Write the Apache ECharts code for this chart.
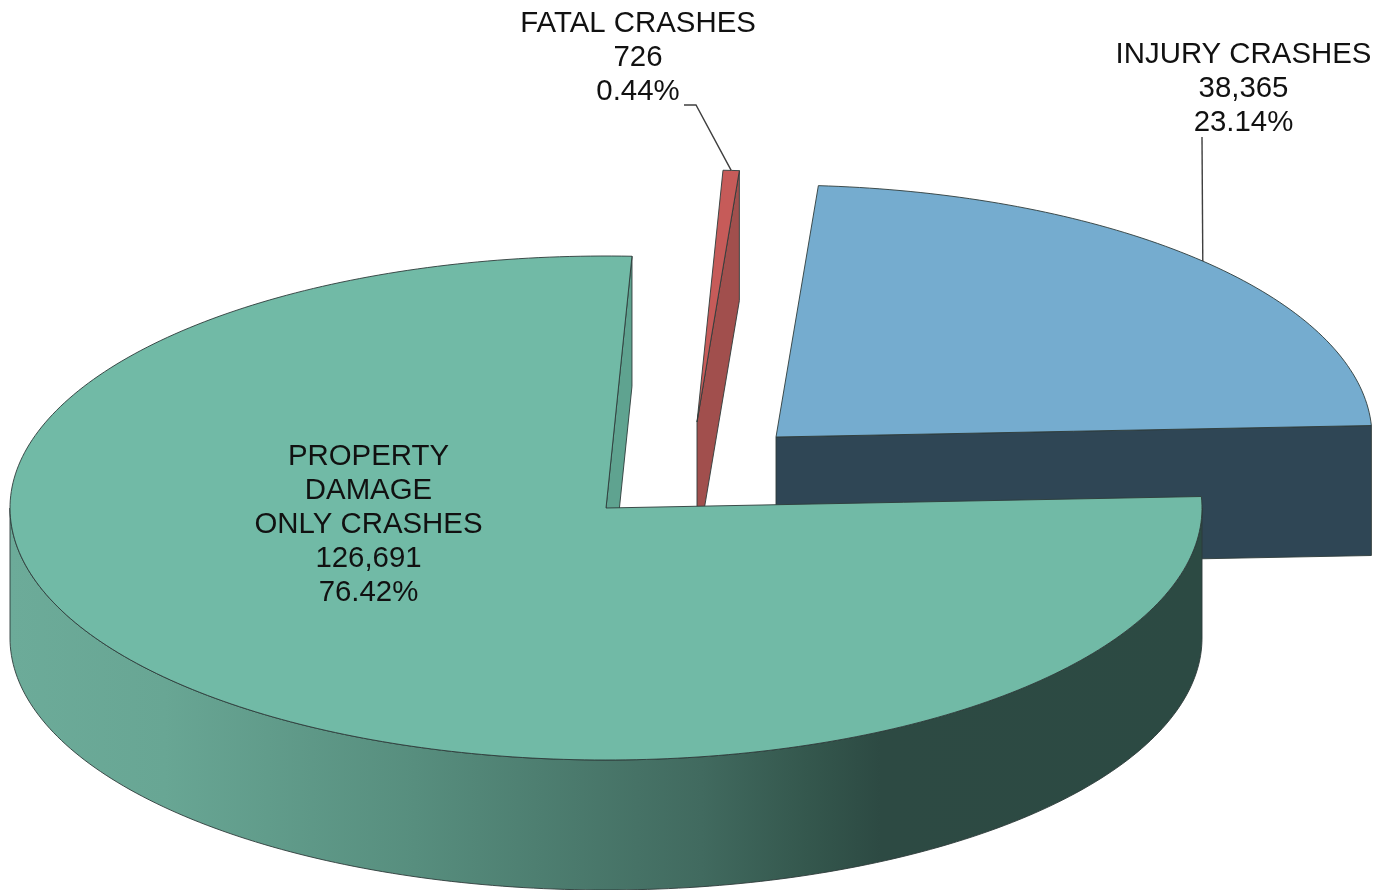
<!DOCTYPE html>
<html>
<head>
<meta charset="utf-8">
<style>html,body{margin:0;padding:0;background:#fff}#c{width:1390px;height:890px}</style>
<script src="https://cdn.jsdelivr.net/npm/echarts@6/dist/echarts.min.js"></script>
</head>
<body>
<div id="c"></div>
<script>
// Data
const categories = ['FATAL CRASHES', 'INJURY CRASHES', 'PROPERTY\nDAMAGE\nONLY CRASHES'];
const crashCounts = [726, 38365, 126691];
const countLabels = ['726', '38,365', '126,691'];
const percentLabels = ['0.44%', '23.14%', '76.42%'];

// Layout and style
const START_DEG = 2.5, RX = 596, RY = 252, DEPTH = 130;
const CENTER = [606, 508];
const EXPLODE = [[91, -86], [170, -71], [0, 0]];
const TOP_FILL = ['#c65b59', '#75accf', '#71baa6'];
const FACE_FILL = ['#a14f4d', '#2f4655', '#5fa390'];
const LABEL_POS = [[638, 58], [1243.5, 89], [368.5, 525]];
const LEADER_FROM = [[[684, 105], [696, 105]], [[1202, 137]], null];
const WALL_FILL = {
  type: 'linear', x: 0, y: 0, x2: 1, y2: 0,
  colorStops: [
    { offset: 0, color: '#6cab99' },
    { offset: 0.13, color: '#68a694' },
    { offset: 0.34, color: '#578e7e' },
    { offset: 0.58, color: '#416a5f' },
    { offset: 0.67, color: '#34574d' },
    { offset: 0.73, color: '#2d4a43' },
    { offset: 1, color: '#2c4a43' }
  ]
};
const EDGE = { stroke: '#2e3b3a', lineWidth: 0.9 };

const total = crashCounts.reduce((a, b) => a + b, 0);
const rad = d => d * Math.PI / 180;

function rim(c, deg, drop) {
  return [c[0] + RX * Math.sin(rad(deg)), c[1] - RY * Math.cos(rad(deg)) + (drop || 0)];
}
function arc(c, from, to, drop) {
  const n = Math.max(2, Math.ceil(Math.abs(to - from)));
  const pts = [];
  for (let i = 0; i <= n; i++) pts.push(rim(c, from + (to - from) * i / n, drop));
  return pts;
}
function poly(points, fill) {
  return { type: 'polygon', shape: { points }, style: Object.assign({ fill }, EDGE) };
}
function plane(c, deg, fill) {
  const p = rim(c, deg);
  return poly([c, p, [p[0], p[1] + DEPTH], [c[0], c[1] + DEPTH]], fill);
}

function renderItem(params, api) {
  const i = params.dataIndex;
  let before = 0;
  for (let k = 0; k < i; k++) before += crashCounts[k];
  const a0 = START_DEG + before / total * 360;
  const a1 = a0 + api.value(0) / total * 360;
  const c = [CENTER[0] + EXPLODE[i][0], CENTER[1] + EXPLODE[i][1]];
  const kids = [];

  // Cut faces turned towards the viewer
  if (Math.sin(rad(a0)) < 0) kids.push(plane(c, a0, FACE_FILL[i]));
  if (Math.sin(rad(a1)) > 0) kids.push(plane(c, a1, FACE_FILL[i]));

  // Outer wall: only the front half of the rim can be seen
  const w0 = Math.max(a0, 90), w1 = Math.min(a1, 270);
  if (w1 > w0) {
    kids.push(poly(arc(c, w0, w1).concat(arc(c, w1, w0, DEPTH)), WALL_FILL));
  }

  // Top face
  kids.push(poly([c].concat(arc(c, a0, a1)), TOP_FILL[i]));

  // Leader from the label to the middle of the slice rim
  if (LEADER_FROM[i]) {
    kids.push({
      type: 'polyline',
      shape: { points: LEADER_FROM[i].concat([rim(c, (a0 + a1) / 2)]) },
      style: { fill: 'none', stroke: '#3f3f3f', lineWidth: 1.4 }
    });
  }

  // Label
  kids.push({
    type: 'text',
    style: {
      text: [categories[i], countLabels[i], percentLabels[i]].join('\n'),
      x: LABEL_POS[i][0], y: LABEL_POS[i][1],
      align: 'center', verticalAlign: 'middle',
      fontFamily: '"Liberation Sans", Arial, sans-serif',
      fontSize: 29.4, lineHeight: 34, fill: '#111111'
    }
  });
  return { type: 'group', children: kids };
}

const chart = echarts.init(document.getElementById('c'), null, { renderer: 'canvas' });
chart.setOption({
  backgroundColor: '#ffffff',
  animation: false,
  series: [{
    type: 'custom',
    coordinateSystem: 'none',
    silent: true,
    clip: false,
    renderItem,
    data: crashCounts.map((v, i) => ({ name: categories[i], value: [v] }))
  }]
});
</script>
</body>
</html>
